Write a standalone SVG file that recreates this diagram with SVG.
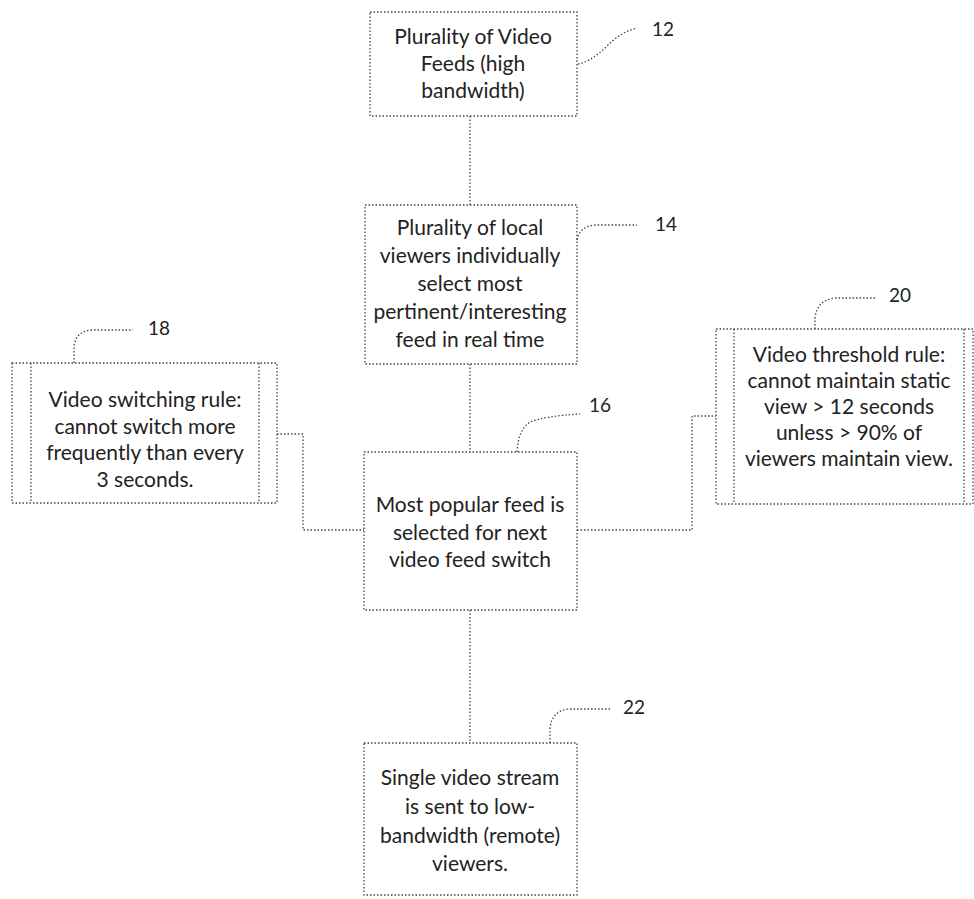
<svg xmlns="http://www.w3.org/2000/svg" width="974" height="899" viewBox="0 0 974 899">
<style>
.box{fill:none;stroke:#444;stroke-width:1.3;stroke-dasharray:1.5 2}
.ln{fill:none;stroke:#444;stroke-width:1.3;stroke-dasharray:1.5 2}
.t{font-family:Lato,"Open Sans","Liberation Sans",sans-serif;font-size:21px;fill:#222;text-anchor:middle}
.lab{font-family:Lato,"Liberation Sans",sans-serif;font-size:19px;fill:#222}
</style>
<rect width="974" height="899" fill="#fff"/>
<g id="connectors">
<path class="ln" d="M470,116 V205"/>
<path class="ln" d="M470,364 V452"/>
<path class="ln" d="M470,610 V743"/>
<path class="ln" d="M277,434 H303 V530 H364"/>
<path class="ln" d="M577,530 H692 V416 H716"/>
</g>
<g id="n12">
<rect class="box" x="370" y="12" width="207" height="104"/>
<text class="t" x="473" y="44">Plurality of Video</text>
<text class="t" x="473" y="71">Feeds (high</text>
<text class="t" x="473" y="98">bandwidth)</text>
<path class="ln" d="M578,64 Q590,62 605,48 Q620,32 637,28"/>
<text class="lab" x="652" y="36">12</text>
</g>
<g id="n14">
<rect class="box" x="365" y="205" width="212" height="159"/>
<text class="t" x="470" y="235">Plurality of local</text>
<text class="t" x="470" y="263">viewers individually</text>
<text class="t" x="470" y="291">select most</text>
<text class="t" x="470" y="319">pertinent/interesting</text>
<text class="t" x="470" y="347">feed in real time</text>
<path class="ln" d="M577,240 Q580,226 595,225 H637"/>
<text class="lab" x="655" y="231">14</text>
</g>
<g id="n16">
<rect class="box" x="364" y="452" width="213" height="158"/>
<text class="t" x="470" y="512">Most popular feed is</text>
<text class="t" x="470" y="540">selected for next</text>
<text class="t" x="470" y="567">video feed switch</text>
<path class="ln" d="M517,452 Q518,430 530,422 Q545,416 580,414"/>
<text class="lab" x="589" y="412">16</text>
</g>
<g id="n18">
<rect class="box" x="12" y="363" width="265" height="140"/>
<path class="ln" d="M31,363 V503 M259,363 V503"/>
<text class="t" x="145" y="407">Video switching rule:</text>
<text class="t" x="145" y="434">cannot switch more</text>
<text class="t" x="145" y="460">frequently than every</text>
<text class="t" x="145" y="487">3 seconds.</text>
<path class="ln" d="M74,363 V346 Q76,331 92,330 H133"/>
<text class="lab" x="148" y="335">18</text>
</g>
<g id="n20">
<rect class="box" x="716" y="329" width="257" height="175"/>
<path class="ln" d="M734,329 V504 M964,329 V504"/>
<text class="t" x="849" y="362">Video threshold rule:</text>
<text class="t" x="849" y="388">cannot maintain static</text>
<text class="t" x="849" y="414">view &gt; 12 seconds</text>
<text class="t" x="849" y="440">unless &gt; 90% of</text>
<text class="t" x="849" y="466">viewers maintain view.</text>
<path class="ln" d="M815,329 V318 Q817,300 835,298 H877"/>
<text class="lab" x="889" y="302">20</text>
</g>
<g id="n22">
<rect class="box" x="364" y="743" width="213" height="152"/>
<text class="t" x="470" y="785">Single video stream</text>
<text class="t" x="470" y="814">is sent to low-</text>
<text class="t" x="470" y="843">bandwidth (remote)</text>
<text class="t" x="470" y="871">viewers.</text>
<path class="ln" d="M550,743 V728 Q552,710 570,709 H610"/>
<text class="lab" x="623" y="714">22</text>
</g>
</svg>
